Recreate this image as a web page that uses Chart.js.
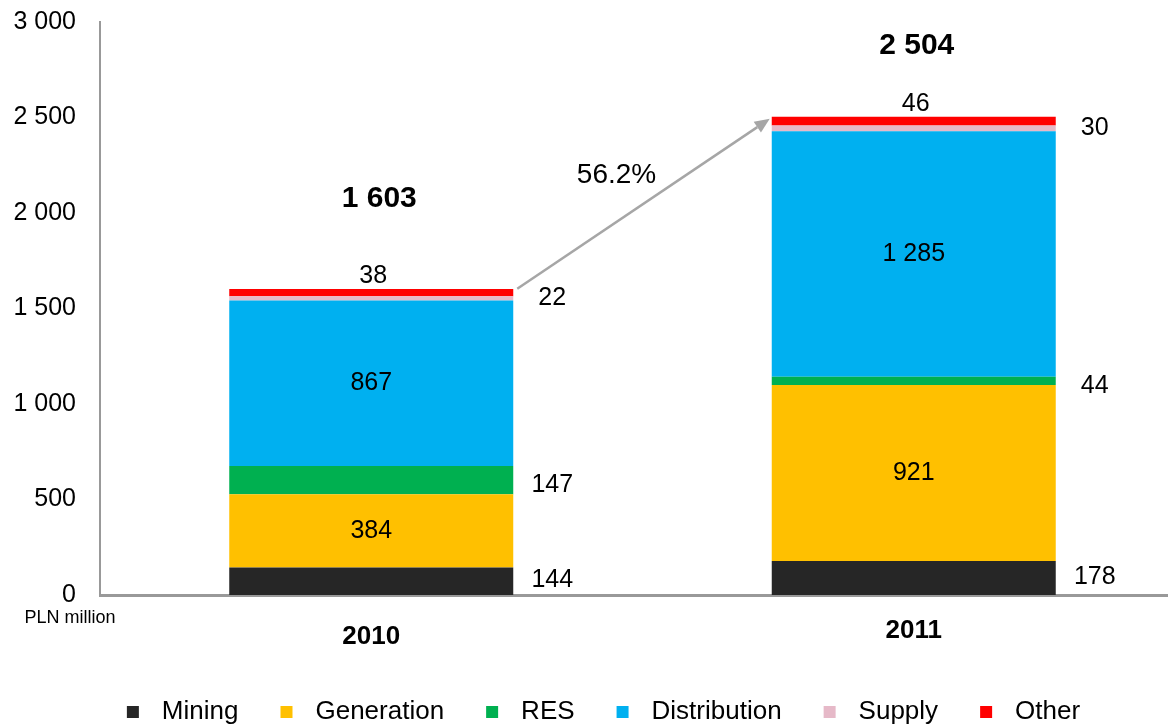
<!DOCTYPE html>
<html>
<head>
<meta charset="utf-8">
<script src="https://cdn.jsdelivr.net/npm/chart.js@4.4.1/dist/chart.umd.min.js"></script>
<style>
html,body{margin:0;padding:0;background:#fff;overflow:hidden;width:1168px;height:725px}
canvas{display:block}
</style>
</head>
<body>
<canvas id="c" width="1185" height="735"></canvas>
<script>
// ---- data ----
const categories = ['2010', '2011'];
const seriesNames = ['Mining', 'Generation', 'RES', 'Distribution', 'Supply', 'Other'];
const mining = [144, 178];
const generation = [384, 921];
const res = [147, 44];
const distribution = [867, 1285];
const supply = [22, 30];
const other = [38, 46];
const totals = [1603, 2504];
const growthLabel = '56.2%';
const yTicks = [0, 500, 1000, 1500, 2000, 2500, 3000];
const unitLabel = 'PLN million';

// ---- style ----
const FONT = '"Liberation Sans", Arial, Helvetica, sans-serif';
const colors = ['#262626', '#FFC000', '#00B050', '#00B0F0', '#E6B9C8', '#FF0000'];
const labelPlacement = ['right', 'inside', 'right', 'inside', 'right', 'above'];
const rightLabelDy = [-1, 0, 5, 0, 0, 0];
const totalLift = [90, 71];
const totalDx = [8, 3];

const fmt = v => String(v).replace(/\B(?=(\d{3})+(?!\d))/g, ' ');

function legendMarker(color) {
  const c = document.createElement('canvas');
  c.width = 60; c.height = 12;
  const g = c.getContext('2d');
  g.fillStyle = color;
  g.fillRect(38, 0, 12, 12);
  return c;
}
const markers = colors.map(legendMarker);

const seriesValues = [mining, generation, res, distribution, supply, other];

const labelPlugin = {
  id: 'customLabels',
  afterLayout(chart) {
    if (chart.legend) { chart.legend.left -= 8; chart.legend.right -= 8; }
  },
  afterDatasetsDraw(chart) {
    const ctx = chart.ctx;
    const ys = chart.scales.y;
    ctx.save();
    ctx.fillStyle = '#000';
    ctx.textAlign = 'center';
    ctx.textBaseline = 'middle';
    const barsByCat = [];
    chart.data.datasets.forEach((ds, di) => {
      const meta = chart.getDatasetMeta(di);
      meta.data.forEach((bar, i) => {
        const p = bar.getProps(['x', 'y', 'base', 'width'], true);
        barsByCat[i] = p;
        const mid = (p.y + p.base) / 2;
        const txt = fmt(ds.data[i]);
        ctx.font = '25px ' + FONT;
        const place = labelPlacement[di];
        if (place === 'inside') {
          ctx.fillText(txt, p.x, mid);
        } else if (place === 'right') {
          ctx.fillText(txt, p.x + p.width / 2 + 39, mid + rightLabelDy[di]);
        } else {
          ctx.fillText(txt, p.x + 2, p.y - 13);
        }
      });
    });
    // totals
    ctx.font = 'bold 30px ' + FONT;
    totals.forEach((t, i) => {
      const b = barsByCat[i];
      ctx.fillText(fmt(t), b.x + totalDx[i], ys.getPixelForValue(t) - totalLift[i]);
    });
    // growth arrow
    const b0 = barsByCat[0], b1 = barsByCat[1];
    const sx = b0.x + b0.width / 2 + 4, sy = ys.getPixelForValue(totals[0]);
    const ex = b1.x - b1.width / 2 - 2, ey = ys.getPixelForValue(totals[1]) + 2;
    const ang = Math.atan2(ey - sy, ex - sx);
    const hl = 15, hw = 6.5;
    const bx = ex - hl * Math.cos(ang), by = ey - hl * Math.sin(ang);
    ctx.strokeStyle = '#A6A6A6';
    ctx.fillStyle = '#A6A6A6';
    ctx.lineWidth = 2.5;
    ctx.beginPath();
    ctx.moveTo(sx, sy);
    ctx.lineTo(bx, by);
    ctx.stroke();
    ctx.beginPath();
    ctx.moveTo(ex, ey);
    ctx.lineTo(bx + hw * Math.sin(ang), by - hw * Math.cos(ang));
    ctx.lineTo(bx - hw * Math.sin(ang), by + hw * Math.cos(ang));
    ctx.closePath();
    ctx.fill();
    ctx.fillStyle = '#000';
    ctx.font = '28px ' + FONT;
    ctx.fillText(growthLabel, (sx + ex) / 2 - 27, (sy + ey) / 2 - 29);
    // unit label
    ctx.font = '18px ' + FONT;
    ctx.fillText(unitLabel, ys.right - 30, chart.chartArea.bottom + 23);
    ctx.restore();
  }
};

new Chart(document.getElementById('c'), {
  type: 'bar',
  data: {
    labels: categories,
    datasets: seriesNames.map((name, i) => ({
      label: name,
      data: seriesValues[i],
      backgroundColor: colors[i],
      borderWidth: 0,
      barPercentage: 0.5235,
      categoryPercentage: 1
    }))
  },
  options: {
    responsive: false,
    animation: false,
    devicePixelRatio: 1,
    layout: { padding: { top: 22, left: 0, right: 0, bottom: 0 } },
    plugins: {
      tooltip: { enabled: false },
      legend: {
        position: 'bottom',
        labels: {
          usePointStyle: true,
          pointStyleWidth: 60,
          boxHeight: 12,
          padding: 4,
          color: '#000',
          font: { size: 26, family: FONT },
          generateLabels(chart) {
            const items = Chart.defaults.plugins.legend.labels.generateLabels(chart);
            items.forEach((it, i) => { it.pointStyle = markers[i]; });
            return items;
          }
        }
      }
    },
    scales: {
      x: {
        stacked: true,
        offset: true,
        grid: { display: false, drawTicks: false },
        border: { display: true, color: '#999999', width: 3 },
        ticks: {
          color: '#000',
          padding: 23,
          font: c => ({ size: 26, weight: 'bold', family: FONT, lineHeight: c.index === 0 ? '38px' : '26px' })
        },
        afterFit(s) { s.height = 100; s.paddingLeft = 0; s.paddingRight = 0; }
      },
      y: {
        stacked: true,
        min: 0,
        max: 3000,
        afterBuildTicks(s) { s.ticks = yTicks.map(v => ({ value: v })); },
        grid: { display: false, drawTicks: false },
        border: { display: true, color: '#999999', width: 2 },
        ticks: {
          color: '#000',
          padding: 24,
          font: { size: 25, family: FONT },
          callback: v => fmt(v)
        },
        afterFit(s) { s.width = 100; s.paddingTop = 0; s.paddingBottom = 0; }
      }
    }
  },
  plugins: [labelPlugin]
});
</script>
</body>
</html>
